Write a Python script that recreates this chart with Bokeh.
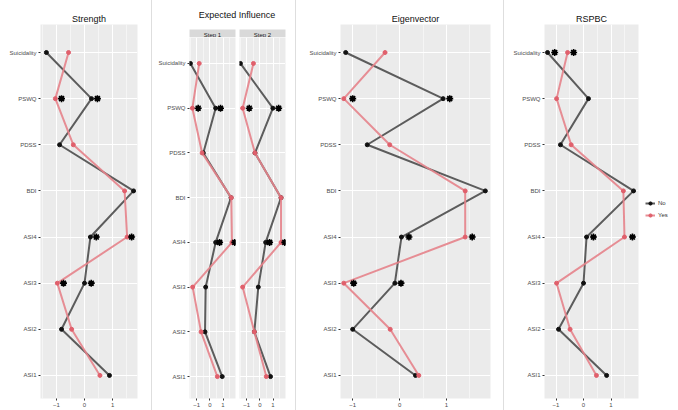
from bokeh.plotting import figure
from bokeh.models import Range1d, FixedTicker, Legend, LegendItem, Div, Spacer, Grid, Label
from bokeh.layouts import row, column
from bokeh.embed import file_html
from bokeh.resources import INLINE

# ---------------- data ----------------
nodes = ["Suicidality", "PSWQ", "PDSS", "BDI", "ASI4", "ASI3", "ASI2", "ASI1"]
groups = ["No", "Yes"]
steps = ["Step 1", "Step 2"]

strength_no = [-1.36, 0.25, -0.89, 1.75, 0.21, 0.00, -0.82, 0.89]
strength_yes = [-0.57, -1.04, -0.40, 1.43, 1.52, -0.97, -0.46, 0.55]
strength_star_nodes = ["PSWQ", "PSWQ", "ASI4", "ASI4", "ASI3", "ASI3"]
strength_star_vals = [-0.82, 0.46, 0.42, 1.68, -0.75, 0.24]

ei1_no = [-1.48, 0.44, -0.50, 1.61, 0.44, -0.32, -0.37, 0.94]
ei1_yes = [-0.81, -1.33, -0.59, 1.63, 1.68, -1.31, -0.67, 0.57]
ei1_star_nodes = ["PSWQ", "PSWQ", "ASI4", "ASI4"]
ei1_star_vals = [-0.89, 0.81, 0.74, 1.90]

ei2_no = [-1.48, 0.99, -0.37, 1.61, 0.44, -0.12, -0.42, 0.81]
ei2_yes = [-0.49, -1.31, -0.37, 1.61, 1.61, -1.31, -0.42, 0.49]
ei2_star_nodes = ["PSWQ", "PSWQ", "ASI4", "ASI4"]
ei2_star_vals = [-0.81, 1.43, 0.74, 1.90]

eig_no = [-1.15, 0.93, -0.69, 1.83, 0.04, -0.10, -1.00, 0.34]
eig_yes = [-0.31, -1.19, -0.21, 1.40, 1.40, -1.19, -0.20, 0.41]
eig_star_nodes = ["PSWQ", "PSWQ", "ASI4", "ASI4", "ASI3", "ASI3"]
eig_star_vals = [-1.00, 1.07, 0.20, 1.55, -0.98, 0.03]

rspbc_no = [-1.31, 0.18, -0.84, 1.82, 0.11, 0.00, -0.91, 0.84]
rspbc_yes = [-0.58, -0.98, -0.45, 1.45, 1.49, -0.98, -0.49, 0.47]
rspbc_star_nodes = ["Suicidality", "Suicidality", "ASI4", "ASI4"]
rspbc_star_vals = [-1.05, -0.36, 0.36, 1.78]

x_ticks = [-1, 0, 1]
x_minor = [-1.5, -0.5, 0.5, 1.5]

# ---------------- style ----------------
FONT = "Liberation Sans"
PANEL_BG = "#ebebeb"
STRIP_BG = "#d9d9d9"
SEP = "#dedede"
COL_NO_LINE = "#4d4d4d"
COL_NO_PT = "#111111"
COL_YES_LINE = "#e5838b"
COL_YES_PT = "#e0606c"

y_pos = [len(nodes) - i for i in range(len(nodes))]
node_y = dict(zip(nodes, y_pos))
label_map = {y: n for n, y in node_y.items()}


def panel(width, height, xr, yr, mbl, mbr, mbt, mbb, show_y=True, title=None):
    p = figure(width=width, height=height,
               x_range=Range1d(xr[0], xr[1]), y_range=Range1d(yr[0], yr[1]),
               output_backend="svg", toolbar_location=None,
               y_axis_location="left" if show_y else None,
               title=title,
               min_border_left=mbl, min_border_right=mbr,
               min_border_top=mbt, min_border_bottom=mbb,
               background_fill_color=PANEL_BG, border_fill_color="white")
    p.outline_line_color = None
    if title is not None:
        p.title.align = "center"
        p.title.text_font = FONT
        p.title.text_font_size = "9px"
        p.title.text_font_style = "normal"
        p.title.text_color = "#111111"
        p.title.standoff = 2
    p.xaxis.ticker = FixedTicker(ticks=x_ticks)
    p.xgrid.ticker = FixedTicker(ticks=x_ticks, minor_ticks=x_minor)
    p.xgrid.grid_line_color = "white"
    p.xgrid.grid_line_width = 1
    p.xgrid.minor_grid_line_color = "white"
    p.xgrid.minor_grid_line_width = 0.5
    axes = list(p.xaxis)
    if show_y:
        p.yaxis.ticker = FixedTicker(ticks=y_pos)
        p.yaxis.major_label_overrides = label_map
        p.ygrid.ticker = FixedTicker(ticks=y_pos)
        p.ygrid.grid_line_color = "white"
        p.ygrid.grid_line_width = 1
        axes += list(p.yaxis)
    else:
        p.add_layout(Grid(dimension=1, ticker=FixedTicker(ticks=y_pos),
                          grid_line_color="white", grid_line_width=1))
    for ax in axes:
        ax.axis_line_color = None
        ax.major_tick_line_color = "#333333"
        ax.major_tick_out = 2
        ax.major_tick_in = 0
        ax.minor_tick_line_color = None
        ax.major_label_text_font = FONT
        ax.major_label_text_font_size = "6px"
        ax.major_label_text_color = "#4d4d4d"
        ax.major_label_standoff = 2
    return p


def draw(p, no, yes, star_nodes, star_vals):
    p.line(no, y_pos, line_color=COL_NO_LINE, line_width=2, line_alpha=0.9)
    p.scatter(no, y_pos, size=4, fill_color=COL_NO_PT, line_color=COL_NO_PT)
    p.line(yes, y_pos, line_color=COL_YES_LINE, line_width=2, line_alpha=0.9)
    p.scatter(yes, y_pos, size=4, fill_color=COL_YES_PT, line_color=COL_YES_PT)
    sy = [node_y[n] for n in star_nodes]
    p.scatter(star_vals, sy, marker="circle", size=4, fill_color="black", line_color="black")
    p.scatter(star_vals, sy, marker="asterisk", size=7, line_color="black", line_width=1.6)


def strip(width, mbl, mbr, text):
    s = figure(width=width, height=10, x_range=Range1d(0, 1), y_range=Range1d(0, 1),
               output_backend="svg", toolbar_location=None, title=None,
               x_axis_location=None, y_axis_location=None,
               min_border_left=mbl, min_border_right=mbr, min_border_top=0, min_border_bottom=0,
               background_fill_color=STRIP_BG, border_fill_color="white")
    s.outline_line_color = None
    s.grid.visible = False
    s.add_layout(Label(x=0.5, y=0.5, text=text, text_align="center", text_baseline="middle",
                       text_font=FONT, text_font_size="6px", text_color="#1a1a1a"))
    return s


H = 410
main_yr = (0.50, 8.607)
ei_yr = (0.51, 8.58)

# Strength
p_str = panel(151, H, (-1.57, 1.89), main_yr, 40, 14, 24, 12, title="Strength")
draw(p_str, strength_no, strength_yes, strength_star_nodes, strength_star_vals)

# Expected influence (two steps)
ei_xr = (-1.55, 1.95)
p_ei1 = panel(85, 373, ei_xr, ei_yr, 37, 2, 0, 12, show_y=True)
draw(p_ei1, ei1_no, ei1_yes, ei1_star_nodes, ei1_star_vals)
p_ei2 = panel(58, 373, ei_xr, ei_yr, 2, 10, 0, 12, show_y=False)
draw(p_ei2, ei2_no, ei2_yes, ei2_star_nodes, ei2_star_vals)

ei_title = Div(text='<div style="margin-left:37px;padding-top:8px;width:96px;text-align:center;'
                    'font-family:\'Liberation Sans\';font-size:9px;line-height:14px;color:#111111;">'
                    'Expected Influence</div>',
               width=143, height=27, margin=0)
strip1 = strip(85, 37, 2, steps[0])
strip2 = strip(58, 2, 10, steps[1])
ei_block = column(ei_title,
                  row(column(strip1, p_ei1, spacing=0), column(strip2, p_ei2, spacing=0), spacing=0),
                  spacing=0)

# Eigenvector
p_eig = panel(207, H, (-1.26, 1.94), main_yr, 44, 13, 24, 12, title="Eigenvector")
draw(p_eig, eig_no, eig_yes, eig_star_nodes, eig_star_vals)

# RSPBC
p_rsp = panel(136, H, (-1.42, 2.0), main_yr, 40, 2, 24, 12, title="RSPBC")
draw(p_rsp, rspbc_no, rspbc_yes, rspbc_star_nodes, rspbc_star_vals)

# Legend panel (glyph renderers hold no visible data, they only style the keys)
nan = float("nan")
p_leg = figure(width=36, height=H, x_range=Range1d(0, 1), y_range=Range1d(0, 1),
               output_backend="svg", toolbar_location=None, title=None,
               x_axis_location=None, y_axis_location=None,
               min_border_left=0, min_border_right=0, min_border_top=0, min_border_bottom=0,
               background_fill_color="white", border_fill_color="white")
p_leg.outline_line_color = None
p_leg.grid.visible = False
ln_no = p_leg.line([nan], [nan], line_color=COL_NO_LINE, line_width=2, line_alpha=0.9)
pt_no = p_leg.scatter([nan], [nan], size=4, fill_color=COL_NO_PT, line_color=COL_NO_PT)
ln_yes = p_leg.line([nan], [nan], line_color=COL_YES_LINE, line_width=2, line_alpha=0.9)
pt_yes = p_leg.scatter([nan], [nan], size=4, fill_color=COL_YES_PT, line_color=COL_YES_PT)
legend = Legend(items=[LegendItem(label=groups[0], renderers=[ln_no, pt_no]),
                       LegendItem(label=groups[1], renderers=[ln_yes, pt_yes])],
                location=(5, 179), label_text_font=FONT, label_text_font_size="6px",
                label_text_color="#333333", glyph_width=10, glyph_height=8,
                label_height=8, label_width=10, spacing=4, padding=2, margin=0,
                label_standoff=3, border_line_color=None, background_fill_alpha=0)
p_leg.add_layout(legend, "center")


def sep():
    return Spacer(width=1, height=H, margin=0, styles={"background-color": SEP})


layout = row(p_str, sep(), ei_block, sep(), p_eig, sep(), p_rsp, p_leg, spacing=0)

open("out.html", "w").write(file_html(layout, INLINE))
